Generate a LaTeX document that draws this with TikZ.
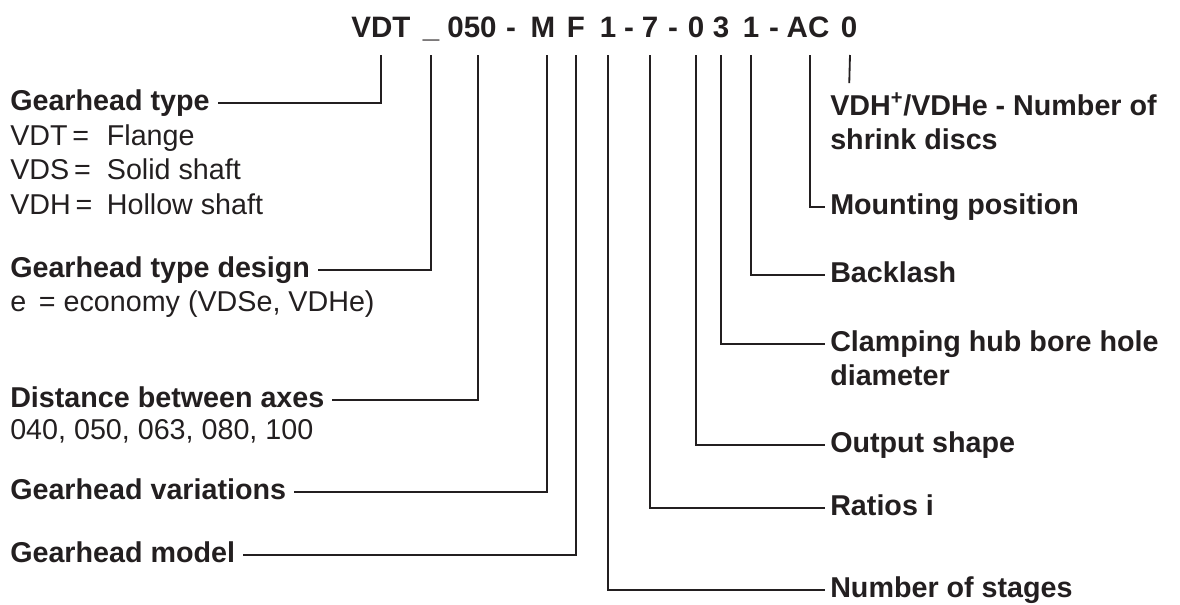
\documentclass[tikz,border=0pt]{standalone}
\usepackage{fontspec}
\setmainfont{Liberation Sans}
\usepackage{tikz}
\usepackage{xcolor}
\definecolor{inkblack}{HTML}{231F20}

\begin{document}
\begin{tikzpicture}[
  x=0.025cm, y=-0.025cm,
  codepart/.style={inner sep=0, anchor=base, font=\fontsize{21}{25}\selectfont\bfseries, text=inkblack},
  keylbl/.style={inner sep=0, anchor=west, text height=14.6pt, text depth=4pt, font=\fontsize{20.4}{24}\selectfont\bfseries, text=inkblack},
  notelbl/.style={keylbl, font=\fontsize{20.4}{24}\selectfont},
  pairlbl/.style={inner sep=0, anchor=base west, align=left, font=\fontsize{20.4}{24}\selectfont\bfseries, text=inkblack},
  lead/.style={draw=inkblack, line width=1.3pt},
  leftlead/.style={lead, shorten >=5.5pt},
  rightlead/.style={lead, shorten >=3.5pt}
]
\useasboundingbox (0,0) rectangle (1180,605);

\node[codepart] (pVDT) at (381,37) {VDT};
\node[codepart] (pUs) at (431,37) {\_};
\node[codepart] (p050) at (472,37) {050};
\node[codepart] (dashA) at (511,37) {-};
\node[codepart] (pM) at (543,37) {M};
\node[codepart] (pF) at (576,37) {F};
\node[codepart] (pStg) at (608,37) {1};
\node[codepart] (dashB) at (629,37) {-};
\node[codepart] (pRat) at (650,37) {7};
\node[codepart] (dashC) at (673,37) {-};
\node[codepart] (pOut) at (696,37) {0};
\node[codepart] (pHub) at (721,37) {3};
\node[codepart] (pBack) at (751,37) {1};
\node[codepart] (dashD) at (774,37) {-};
\node[codepart] (pMount) at (808,37) {AC};
\node[codepart] (pDisc) at (849,37) {0};

\node[keylbl] (lType) at (10,103) {Gearhead type};
\node[notelbl] (lFlange) at (10,138) {\makebox[68.7pt][l]{VDT\,=}Flange};
\node[notelbl] (lSolid) at (10,172) {\makebox[68.7pt][l]{VDS\,=}Solid shaft};
\node[notelbl] (lHollow) at (10,207) {\makebox[68.7pt][l]{VDH\,=}Hollow shaft};
\node[keylbl] (lDesign) at (10,270) {Gearhead type design};
\node[notelbl] (lEco) at (10,304) {e\, = economy (VDSe, VDHe)};
\node[keylbl] (lAxes) at (10,400) {Distance between axes};
\node[notelbl] (lSizes) at (10,432) {040, 050, 063, 080, 100};
\node[keylbl] (lVar) at (10,492) {Gearhead variations};
\node[keylbl] (lModel) at (10,555) {Gearhead model};

\node[pairlbl] (lShrink) at (830,149.3) {VDH\textsuperscript{+}/VDHe - Number of\\shrink discs};
\node[keylbl] (lMount) at (830,207) {Mounting position};
\node[keylbl] (lBack) at (830,275) {Backlash};
\node[pairlbl] (lClamp) at (830,385.3) {Clamping hub bore hole\\diameter};
\node[keylbl] (lOut) at (830,445) {Output shape};
\node[keylbl] (lRatio) at (830,508) {Ratios i};
\node[keylbl] (lStages) at (830,590) {Number of stages};

\draw[leftlead] (pVDT.base) ++(0,18) |- (lType.east);
\draw[leftlead] (pUs.base) ++(0,18) |- (lDesign.east);
\draw[leftlead] (p050.base) ++(6,18) |- (lAxes.east);
\draw[leftlead] (pM.base) ++(4,18) |- (lVar.east);
\draw[leftlead] (pF.base) ++(0,18) |- (lModel.east);

\draw[rightlead] (pStg.base) ++(0,18) |- (lStages.west);
\draw[rightlead] (pRat.base) ++(0,18) |- (lRatio.west);
\draw[rightlead] (pOut.base) ++(0,18) |- (lOut.west);
\draw[rightlead] (pHub.base) ++(0,18) |- ([yshift=29.2pt]lClamp.base west);
\draw[rightlead] (pBack.base) ++(0,18) |- (lBack.west);
\draw[rightlead] (pMount.base) ++(2,18) |- (lMount.west);
\draw[lead, shorten >=7pt] (pDisc.base) ++(1,18) -- (lShrink.north -| pDisc.base);

\end{tikzpicture}
\end{document}
